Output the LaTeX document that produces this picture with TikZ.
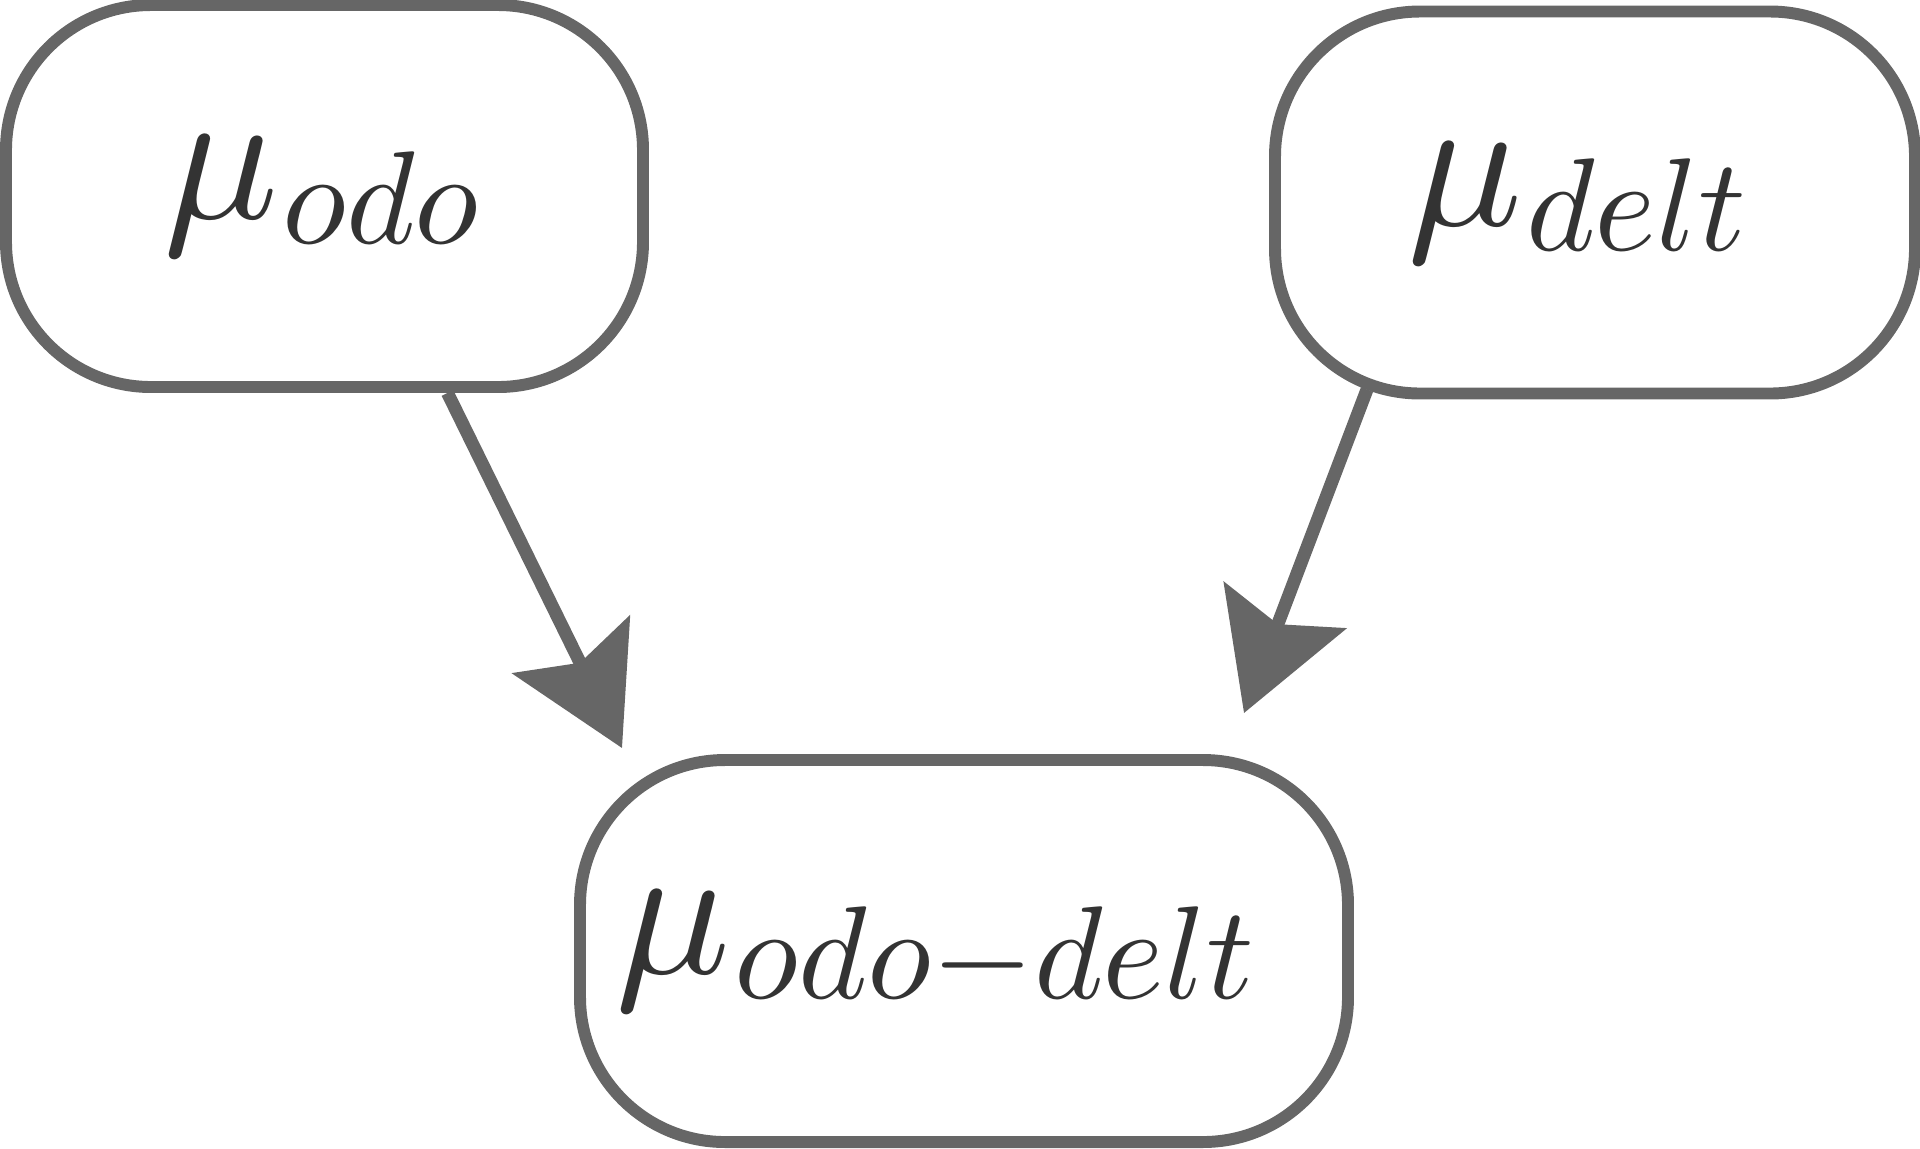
\documentclass[tikz,border=0pt]{standalone}
\usepackage{amsmath}
\usepackage{graphicx}
\usepackage{tikz}
\usetikzlibrary{arrows.meta,positioning,shapes}

\definecolor{edgegray}{RGB}{102,102,102}
\definecolor{textgray}{RGB}{51,51,51}

\newcommand{\meanlabel}[2][0cm]{\scalebox{5.45}{$\mu$}\kern0.03cm\raisebox{-0.25cm}{\scalebox{3.76}{$#2$}}\kern#1}

\tikzset{
  meanbox/.style={draw=edgegray, line width=3.4pt, rounded corners=1.45cm,
    minimum height=3.82cm, text=textgray, inner sep=0pt},
  infarrow/.style={draw=edgegray, line width=3.7pt,
    -{Stealth[length=1.15cm, width=1.3cm, inset=0.2cm]}}
}

\begin{document}
\begin{tikzpicture}
	\useasboundingbox (0,0) rectangle (19.2,-11.48);
	% Nodes
	\node[meanbox,minimum width=6.37cm] (odo) at (3.245,-1.96) {\meanlabel[0.06cm]{odo}};
	\node[meanbox,minimum width=6.40cm] (delt) at (15.95,-2.025) {\meanlabel[0.36cm]{delt}};
	\node[meanbox,minimum width=7.68cm] (diff) at (9.64,-9.51) {\meanlabel[0.58cm]{odo{-}delt}};

	\coordinate (tipodo) at (6.22,-7.48);
	\coordinate (tipdelt) at (12.44,-7.13);

	% Edges
	\draw[infarrow] ([xshift=1.23cm]odo.south) -- (tipodo);
	\draw[infarrow] ([xshift=-2.28cm,yshift=0.1cm]delt.south) -- (tipdelt);
\end{tikzpicture}
\end{document}
